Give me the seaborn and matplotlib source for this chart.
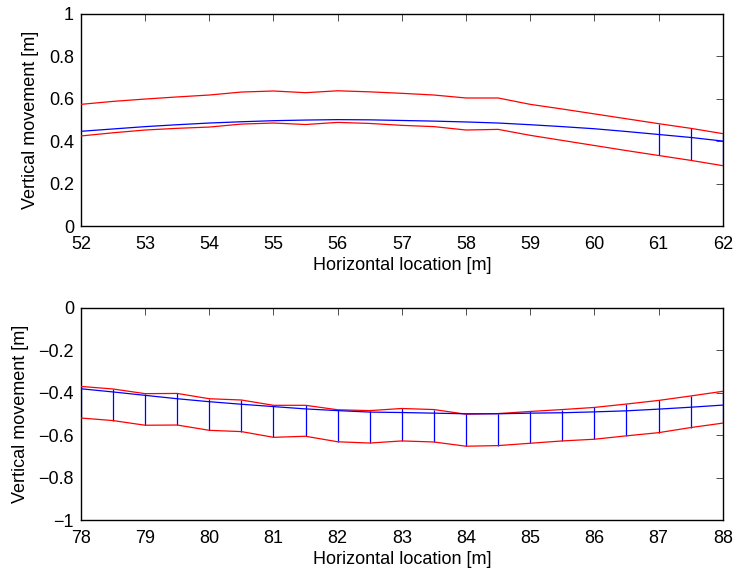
import matplotlib
matplotlib.use("Agg")
import matplotlib.pyplot as plt
import seaborn as sns
import numpy as np
import pandas as pd

sns.set_theme(style="white")
plt.rcParams['font.family'] = ['Liberation Sans', 'DejaVu Sans']
plt.rcParams['text.color'] = 'black'
plt.rcParams['axes.labelcolor'] = 'black'
plt.rcParams['xtick.color'] = 'black'
plt.rcParams['ytick.color'] = 'black'

# ---- Data: top panel ----
x_top = [52, 52.5, 53, 53.5, 54, 54.5, 55, 55.5, 56, 56.5, 57, 57.5, 58, 58.5,
         59, 59.5, 60, 60.5, 61, 61.5, 62]
mean_top = [0.447, 0.458, 0.469, 0.478, 0.486, 0.492, 0.497, 0.500, 0.502, 0.501, 0.498,
            0.495, 0.491, 0.486, 0.478, 0.469, 0.459, 0.446, 0.432, 0.418, 0.401]
upper_top = [0.574, 0.588, 0.599, 0.609, 0.618, 0.632, 0.637, 0.629, 0.638, 0.633, 0.626,
             0.618, 0.604, 0.604, 0.574, 0.552, 0.529, 0.506, 0.483, 0.461, 0.436]
lower_top = [0.425, 0.440, 0.453, 0.461, 0.467, 0.481, 0.486, 0.479, 0.489, 0.484, 0.475,
             0.469, 0.453, 0.456, 0.428, 0.404, 0.380, 0.356, 0.333, 0.310, 0.285]
bars_top_x = [61, 61.5, 62]

# ---- Data: bottom panel ----
x_bot = [78, 78.5, 79, 79.5, 80, 80.5, 81, 81.5, 82, 82.5, 83, 83.5, 84, 84.5,
         85, 85.5, 86, 86.5, 87, 87.5, 88]
mean_bot = [-0.381, -0.396, -0.412, -0.428, -0.442, -0.454, -0.465, -0.476, -0.484, -0.491,
            -0.493, -0.496, -0.499, -0.499, -0.496, -0.494, -0.490, -0.485, -0.477, -0.468, -0.458]
upper_bot = [-0.370, -0.382, -0.404, -0.403, -0.428, -0.434, -0.459, -0.459, -0.480, -0.484,
             -0.474, -0.479, -0.501, -0.498, -0.488, -0.479, -0.469, -0.453, -0.436, -0.415, -0.393]
lower_bot = [-0.519, -0.531, -0.553, -0.552, -0.577, -0.583, -0.610, -0.605, -0.631, -0.637,
             -0.627, -0.632, -0.652, -0.649, -0.638, -0.627, -0.619, -0.603, -0.588, -0.564, -0.543]
bars_bot_x = x_bot

xticks_top = [52, 53, 54, 55, 56, 57, 58, 59, 60, 61, 62]
yticks_top = [0, 0.2, 0.4, 0.6, 0.8, 1]
yticklabels_top = ["0", "0.2", "0.4", "0.6", "0.8", "1"]
xticks_bot = [78, 79, 80, 81, 82, 83, 84, 85, 86, 87, 88]
yticks_bot = [-1, -0.8, -0.6, -0.4, -0.2, 0]
yticklabels_bot = ["\u22121", "\u22120.8", "\u22120.6", "\u22120.4", "\u22120.2", "0"]

xlabel = "Horizontal location [m]"
ylabel = "Vertical movement [m]"

fig = plt.figure(figsize=(7.36, 5.71), dpi=100)
ax1 = fig.add_axes([0.110, 0.604, 0.872, 0.3715])
ax2 = fig.add_axes([0.110, 0.0893, 0.872, 0.3713])

def panel(ax, x, mean, upper, lower, barsx, xticks, yticks, yticklabels, xlim, ylim):
    df = pd.DataFrame({"x": x, "mean": mean, "upper": upper, "lower": lower})
    sub = df[df["x"].isin(barsx)]
    ax.vlines(sub["x"], sub["lower"], sub["upper"], colors="#0000ff", linewidth=0.9, zorder=2)
    sns.lineplot(data=df, x="x", y="upper", ax=ax, color="#ff0000", linewidth=0.9, zorder=3)
    sns.lineplot(data=df, x="x", y="lower", ax=ax, color="#ff0000", linewidth=0.9, zorder=3)
    sns.lineplot(data=df, x="x", y="mean", ax=ax, color="#0000ff", linewidth=0.9, zorder=3)
    ax.set_xlim(*xlim)
    ax.set_ylim(*ylim)
    ax.set_xticks(xticks)
    ax.set_xticklabels([str(t) for t in xticks])
    ax.set_yticks(yticks)
    ax.set_yticklabels(yticklabels)
    ax.set_xlabel(xlabel, fontsize=13, labelpad=3)
    ax.set_ylabel(ylabel, fontsize=13, labelpad=7)
    ax.tick_params(direction="in", length=5, width=0.6, top=True, right=True,
                   labelsize=13, color="#333333")
    ax.tick_params(axis="x", pad=7)
    ax.tick_params(axis="y", pad=5)
    for s in ax.spines.values():
        s.set_linewidth(1.0)
        s.set_color("black")
        s.set_visible(True)

panel(ax1, x_top, mean_top, upper_top, lower_top, bars_top_x, xticks_top, yticks_top,
      yticklabels_top, (52, 62), (0, 1))
panel(ax2, x_bot, mean_bot, upper_bot, lower_bot, bars_bot_x, xticks_bot, yticks_bot,
      yticklabels_bot, (78, 88), (-1, 0))

fig.savefig("out.png", dpi=100, facecolor="white")
